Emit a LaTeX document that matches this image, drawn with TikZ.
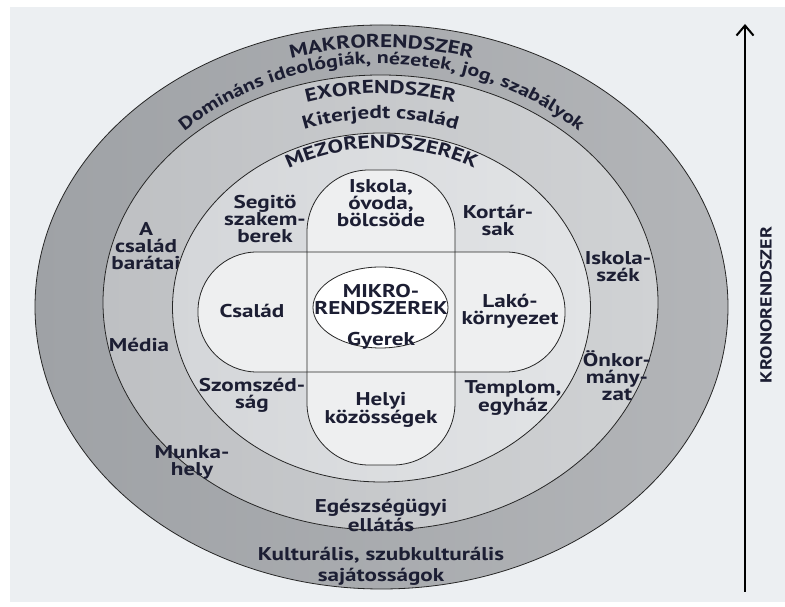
\documentclass[tikz,border=0pt]{standalone}
\usepackage{fontspec}
\setmainfont[FakeStretch=1.25]{PT Sans}
\usetikzlibrary{decorations.text, arrows.meta}

\definecolor{panel}{HTML}{ECEFF2}
\definecolor{makroL}{HTML}{9FA2A6}
\definecolor{makroR}{HTML}{B3B5B8}
\definecolor{exoL}{HTML}{BEC0C3}
\definecolor{exoR}{HTML}{D0D2D4}
\definecolor{mezoL}{HTML}{D4D6D9}
\definecolor{mezoR}{HTML}{E2E4E6}
\definecolor{crossfill}{HTML}{EEEFF0}
\definecolor{ink}{HTML}{1C1E33}
\definecolor{rim}{HTML}{262626}

\newcommand{\lblfont}{\bfseries\fontsize{18.5}{17}\selectfont}
\newcommand{\bandfont}{\bfseries\fontsize{18.5}{18}\selectfont}
\newcommand{\mottofont}{\bfseries\fontsize{17.5}{18}\selectfont}

\begin{document}
\begin{tikzpicture}[x=1pt, y=1pt,
  rim/.style={draw=rim, line width=0.8pt},
  lbl/.style={font=\lblfont, text=ink, align=center, inner sep=0pt},
  bandtext/.style={decorate, decoration={text along path, text align=center, text={#1}}}]

\useasboundingbox (0,0) rectangle (785,607);
\fill[panel] (10,5) rectangle (785,600);

% makrorendszer
\path[left color=makroL, right color=makroR, rim] (381.5,300) ellipse [x radius=346.5, y radius=282];
\path[bandtext={|\color{ink}\bandfont|MAKRORENDSZER}]
  (63.5,300) arc [start angle=180, end angle=0, x radius=318, y radius=259.5];
\path[bandtext={|\color{ink}\mottofont|Domináns ideológiák, nézetek, jog, szabályok}]
  (96.5,300) arc [start angle=180, end angle=0, x radius=285, y radius=243];

% exorendszer
\path[left color=exoL, right color=exoR, rim] (380.5,304.5) ellipse [x radius=277.5, y radius=227.5];
\path[bandtext={|\color{ink}\bandfont|EXORENDSZER}]
  (129.5,304.5) arc [start angle=180, end angle=0, x radius=251, y radius=209];
\path[bandtext={|\color{ink}\bandfont|Kiterjedt család}]
  (159.5,304.5) arc [start angle=180, end angle=0, x radius=221, y radius=184];
\begin{scope}
  \clip (380.5,304.5) ellipse [x radius=277.5, y radius=227.5];
  \node[lbl] (barat) at (146,361) {A\\család\\barátai};
\end{scope}
\node[lbl] (media) at (139,262) {Média};
\node[lbl] (munka) at (192,145) {Munka-\\hely};
\node[lbl, font=\bfseries\fontsize{18.5}{19}\selectfont] (egeszseg) at (381,92) {Egészségügyi\\ellátás};
\node[lbl] (iskolaszek) at (618,340) {Iskola-\\szék};
\node[lbl] (onkorm) at (617,231) {Önkor-\\mány-\\zat};
\node[lbl, font=\bfseries\fontsize{18.5}{21}\selectfont] (kultur) at (381,41) {Kulturális, szubkulturális\\sajátosságok};

% mezorendszerek
\path[left color=mezoL, right color=mezoR, rim] (381.5,299.5) ellipse [x radius=209, y radius=174.5];
\path[bandtext={|\color{ink}\bandfont|MEZORENDSZEREK}]
  (193.5,299.5) arc [start angle=180, end angle=0, x radius=188, y radius=159.5];

% cross of settings around the child
\fill[crossfill, rounded corners=62] (307,142) rectangle (455,437);
\fill[crossfill, rounded corners=59] (198,235) rectangle (565,355);
\draw[rim, rounded corners=62] (307,142) rectangle (455,437);
\draw[rim, rounded corners=59] (198,235) rectangle (565,355);

% mikrorendszerek
\path[fill=white, rim] (380.5,299.5) ellipse [x radius=67.5, y radius=40.5];

\node[lbl] (iskola) at (381,404) {Iskola,\\óvoda,\\bölcsöde};
\node[lbl] (segito) at (265,388) {Segitö\\szakem-\\berek};
\node[lbl] (kortars) at (498,387) {Kortár-\\sak};
\node[lbl] (csalad) at (252,296) {Család};
\node[lbl] (mikro) at (381,307) {MIKRO-\\RENDSZEREK};
\node[lbl] (gyerek) at (381,266) {Gyerek};
\node[lbl] (lako) at (510,296) {Lakó-\\környezet};
\node[lbl] (szomszed) at (252,212) {Szomszéd-\\ság};
\node[lbl] (helyi) at (381,197) {Helyi\\közösségek};
\node[lbl] (templom) at (513,209) {Templom,\\egyház};

% kronorendszer: time axis
\coordinate (tail) at (745,15);
\coordinate (head) at (745,583);
\draw[line width=2.4pt, -{Straight Barb[length=10pt, width=17pt, line width=2pt]}] (tail) -- (head);
\node[lbl, font=\bfseries\fontsize{16}{16}\selectfont, rotate=90] (krono) at (766,302) {KRONORENDSZER};

\end{tikzpicture}
\end{document}
